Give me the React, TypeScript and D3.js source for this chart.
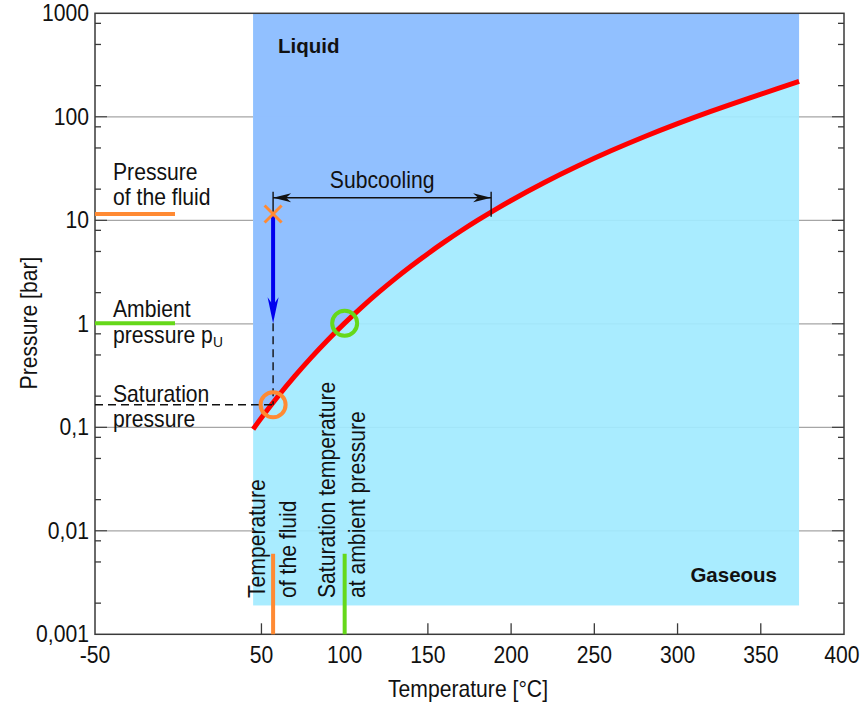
import React, { useEffect, useRef } from "react";
import * as d3 from "d3";

// vapour pressure curve of water
const curveTemp = [45, 50, 60, 70, 80, 90, 100, 110, 120, 130, 140, 150, 160, 170, 180, 190, 200, 220, 240, 260, 280, 300, 320, 340, 360, 373];
const curvePressure = [0.0959, 0.1235, 0.1995, 0.312, 0.4741, 0.7018, 1.0142, 1.4338, 1.9867, 2.7026, 3.615, 4.761, 6.1814, 7.9205, 10.026, 12.551, 15.547, 23.2, 33.47, 46.92, 64.17, 85.88, 112.9, 146.0, 186.7, 220];

const xTicks = [-50, 50, 100, 150, 200, 250, 300, 350, 400];
const xInnerTicks = [50, 100, 150, 200, 250, 300, 350];
const yTicks = [0.001, 0.01, 0.1, 1, 10, 100, 1000];
const yTickLabels = ["0,001", "0,01", "0,1", "1", "10", "100", "1000"];
const minorFactors = [2, 5, 8];

// region and annotation values
const regionTemp = [45, 373];
const regionBottom = 0.0019;
const fluidTemp = 57;
const fluidPressure = 11.5;
const fluidSatPressure = 0.165;
const ambientPressure = 1.013;
const ambientSatTemp = 100;
const subcoolEndTemp = 188;
const subcoolArrowPressure = 16.5;
const markerTopPressure = 0.006;

const FONT = "'Liberation Sans', Arial, Helvetica, sans-serif";
const SQUEEZE = "scale(0.92,1)"; // fake a condensed face
const ORANGE = "#ff8a33";
const GREEN = "#66d81a";

const App = () => {
  const ref = useRef(null);

  useEffect(() => {
    const svg = d3.select(ref.current);
    svg.selectAll("*").remove();

    const x = d3.scaleLinear().domain([-50, 400]).range([95, 844]);
    const y = d3.scaleLog().domain([0.001, 1000]).range([634.3, 13.3]);
    const [x0, x1] = x.range();
    const [y0, y1] = y.range();

    // gridlines (under the regions)
    svg
      .append("g")
      .selectAll("line")
      .data(yTicks.slice(1, -1))
      .join("line")
      .attr("x1", x0 + 12)
      .attr("x2", x1 - 12)
      .attr("y1", (d) => y(d))
      .attr("y2", (d) => y(d))
      .attr("stroke", "#a6a6a6")
      .attr("stroke-width", 1.2);

    // gaseous region (whole box), liquid on top of it above the curve
    svg
      .append("rect")
      .attr("x", x(regionTemp[0]))
      .attr("y", y1)
      .attr("width", x(regionTemp[1]) - x(regionTemp[0]))
      .attr("height", y(regionBottom) - y1)
      .attr("fill", "#a2eaff")
      .attr("fill-opacity", 0.92);

    const pts = curveTemp.map((t, i) => [t, curvePressure[i]]);
    const area = d3
      .area()
      .x((d) => x(d[0]))
      .y0(y1)
      .y1((d) => y(d[1]))
      .curve(d3.curveMonotoneX);
    svg
      .append("path")
      .datum(pts)
      .attr("d", area)
      .attr("fill", "#8fbcff")
      .attr("fill-opacity", 0.92);

    const line = d3
      .line()
      .x((d) => x(d[0]))
      .y((d) => y(d[1]))
      .curve(d3.curveMonotoneX);
    svg
      .append("path")
      .datum(pts)
      .attr("d", line)
      .attr("fill", "none")
      .attr("stroke", "#ff0000")
      .attr("stroke-width", 5);

    // frame
    svg
      .append("rect")
      .attr("x", x0)
      .attr("y", y1)
      .attr("width", x1 - x0)
      .attr("height", y0 - y1)
      .attr("fill", "none")
      .attr("stroke", "#3a3a3a")
      .attr("stroke-width", 1.5);

    // y ticks on both sides, pointing inward
    const minor = [];
    yTicks.slice(0, -1).forEach((d) => minorFactors.forEach((f) => minor.push(d * f)));
    const ticks = svg.append("g").attr("stroke", "#3a3a3a").attr("stroke-width", 1.3);
    [
      [x0, 1],
      [x1, -1],
    ].forEach(([xx, dir]) => {
      ticks
        .append("g")
        .selectAll("line")
        .data(yTicks.slice(1, -1))
        .join("line")
        .attr("x1", xx)
        .attr("x2", xx + dir * 12)
        .attr("y1", (d) => y(d))
        .attr("y2", (d) => y(d));
      ticks
        .append("g")
        .selectAll("line")
        .data(minor)
        .join("line")
        .attr("x1", xx)
        .attr("x2", xx + dir * 6)
        .attr("y1", (d) => y(d))
        .attr("y2", (d) => y(d));
    });
    ticks
      .append("g")
      .selectAll("line")
      .data(xInnerTicks)
      .join("line")
      .attr("x1", (d) => x(d))
      .attr("x2", (d) => x(d))
      .attr("y1", y0)
      .attr("y2", y0 - 11);

    // all text
    const txt = svg.append("g").attr("font-family", FONT).attr("fill", "#111").attr("font-size", 23);
    const at = (px, py, rot = false) => `translate(${px},${py})${rot ? " rotate(-90)" : ""} ${SQUEEZE}`;

    txt
      .append("g")
      .selectAll("text")
      .data(yTicks)
      .join("text")
      .attr("transform", (d) => at(89, y(d) + 8))
      .attr("text-anchor", "end")
      .text((d, i) => yTickLabels[i]);
    txt
      .append("g")
      .selectAll("text")
      .data(xTicks)
      .join("text")
      .attr("transform", (d) => at(Math.min(x(d), 842), 663))
      .attr("text-anchor", "middle")
      .text((d) => d);

    txt
      .append("text")
      .attr("transform", at(468, 697))
      .attr("text-anchor", "middle")
      .text("Temperature [°C]");
    txt
      .append("text")
      .attr("transform", at(37, 323, true))
      .attr("text-anchor", "middle")
      .text("Pressure [bar]");

    // region names
    txt
      .append("text")
      .attr("x", 278)
      .attr("y", 53)
      .attr("font-weight", "bold")
      .attr("font-size", 20.5)
      .text("Liquid");
    txt
      .append("text")
      .attr("x", 777)
      .attr("y", 582)
      .attr("font-weight", "bold")
      .attr("font-size", 20.5)
      .attr("text-anchor", "end")
      .text("Gaseous");

    // left annotations
    svg
      .append("line")
      .attr("x1", x0)
      .attr("x2", 175)
      .attr("y1", y(fluidPressure))
      .attr("y2", y(fluidPressure))
      .attr("stroke", ORANGE)
      .attr("stroke-width", 4);
    svg
      .append("line")
      .attr("x1", x0)
      .attr("x2", 175)
      .attr("y1", y(ambientPressure))
      .attr("y2", y(ambientPressure))
      .attr("stroke", GREEN)
      .attr("stroke-width", 4);

    const leftText = [
      ["Pressure", 180],
      ["of the fluid", 205],
      ["Ambient", 317],
      ["Saturation", 402],
      ["pressure", 427],
    ];
    txt
      .append("g")
      .selectAll("text")
      .data(leftText)
      .join("text")
      .attr("transform", (d) => at(113, d[1]))
      .text((d) => d[0]);
    const pu = txt.append("text").attr("transform", at(113, 343));
    pu.append("tspan").text("pressure p");
    pu.append("tspan").attr("font-size", 15).attr("dy", 4).text("U");

    // bottom markers
    svg
      .append("line")
      .attr("x1", x(fluidTemp))
      .attr("x2", x(fluidTemp))
      .attr("y1", y(markerTopPressure))
      .attr("y2", y0)
      .attr("stroke", ORANGE)
      .attr("stroke-width", 4);
    svg
      .append("line")
      .attr("x1", x(ambientSatTemp))
      .attr("x2", x(ambientSatTemp))
      .attr("y1", y(markerTopPressure))
      .attr("y2", y0)
      .attr("stroke", GREEN)
      .attr("stroke-width", 4);

    const rotText = [
      ["Temperature", 265],
      ["of the fluid", 296],
      ["Saturation temperature", 335],
      ["at ambient pressure", 365],
    ];
    txt
      .append("g")
      .selectAll("text")
      .data(rotText)
      .join("text")
      .attr("transform", (d) => at(d[1], 598, true))
      .text((d) => d[0]);

    // dashed guides to saturation pressure
    const fx = x(fluidTemp);
    const dashed = svg
      .append("g")
      .attr("stroke", "#111")
      .attr("stroke-width", 1.4)
      .attr("stroke-dasharray", "8,5")
      .attr("fill", "none");
    dashed
      .append("line")
      .attr("x1", fx)
      .attr("x2", fx)
      .attr("y1", y(ambientPressure))
      .attr("y2", y(fluidSatPressure));
    dashed
      .append("line")
      .attr("x1", x0)
      .attr("x2", fx)
      .attr("y1", y(fluidSatPressure))
      .attr("y2", y(fluidSatPressure));

    // blue arrow: fluid pressure down to ambient
    const yTip = y(ambientPressure);
    svg
      .append("line")
      .attr("x1", fx)
      .attr("x2", fx)
      .attr("y1", y(fluidPressure))
      .attr("y2", yTip - 18)
      .attr("stroke", "#0000ee")
      .attr("stroke-width", 4);
    svg
      .append("path")
      .attr("d", `M${fx},${yTip} L${fx - 5.5},${yTip - 26} L${fx},${yTip - 18} L${fx + 5.5},${yTip - 26} Z`)
      .attr("fill", "#0000ee");

    // subcooling dimension arrow
    const ya = y(subcoolArrowPressure);
    const xe = x(subcoolEndTemp);
    const sub = svg.append("g").attr("stroke", "#111").attr("stroke-width", 1.4);
    sub.append("line").attr("x1", fx).attr("x2", xe).attr("y1", ya).attr("y2", ya);
    sub.append("line").attr("x1", fx).attr("x2", fx).attr("y1", ya - 6).attr("y2", y(fluidPressure));
    sub.append("line").attr("x1", xe).attr("x2", xe).attr("y1", ya - 6).attr("y2", ya + 19);
    svg
      .append("path")
      .attr("d", `M${fx},${ya} L${fx + 18},${ya - 4.5} L${fx + 13},${ya} L${fx + 18},${ya + 4.5} Z`)
      .attr("fill", "#111");
    svg
      .append("path")
      .attr("d", `M${xe},${ya} L${xe - 18},${ya - 4.5} L${xe - 13},${ya} L${xe - 18},${ya + 4.5} Z`)
      .attr("fill", "#111");
    txt
      .append("text")
      .attr("transform", at((fx + xe) / 2, ya - 10))
      .attr("text-anchor", "middle")
      .text("Subcooling");

    // fluid state marker
    const fy = y(fluidPressure);
    svg
      .append("path")
      .attr("d", `M${fx - 8.5},${fy - 8.5} L${fx + 8.5},${fy + 8.5} M${fx - 8.5},${fy + 8.5} L${fx + 8.5},${fy - 8.5}`)
      .attr("stroke", ORANGE)
      .attr("stroke-width", 3);

    // circles on the curve
    svg
      .append("circle")
      .attr("cx", fx)
      .attr("cy", y(fluidSatPressure))
      .attr("r", 12.5)
      .attr("fill", "none")
      .attr("stroke", ORANGE)
      .attr("stroke-width", 4);
    svg
      .append("circle")
      .attr("cx", x(ambientSatTemp))
      .attr("cy", y(ambientPressure))
      .attr("r", 12.5)
      .attr("fill", "none")
      .attr("stroke", GREEN)
      .attr("stroke-width", 4);
  }, []);

  return (
    <svg
      ref={ref}
      width={862}
      height={702}
      style={{ position: "absolute", left: 0, top: 0, background: "#fff" }}
    />
  );
};

export default App;
